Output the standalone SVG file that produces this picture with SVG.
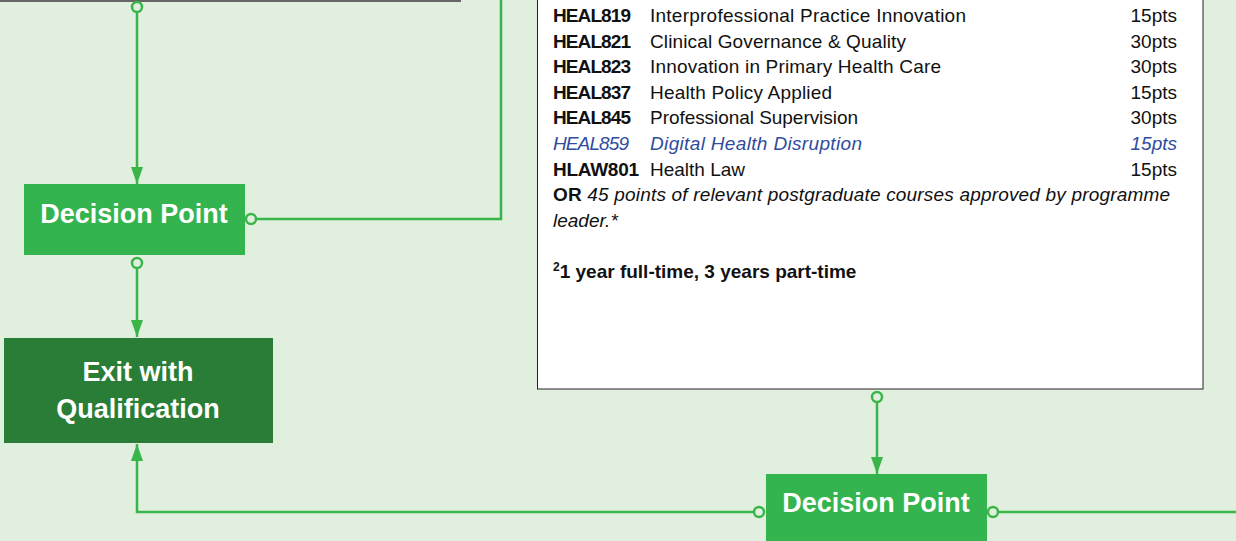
<svg xmlns="http://www.w3.org/2000/svg" width="1236" height="541" viewBox="0 0 1236 541">
<style>
.bg{fill:#e1f0de}
.conn{fill:none;stroke:#3ab54a;stroke-width:2.5}
.dot{fill:#e1f0de;stroke:#3ab54a;stroke-width:2.5}
.dp{fill:#34b44e}
.exit{fill:#2a7d36}
.nt{font-family:"Liberation Sans",Arial,sans-serif;font-weight:bold;font-size:27px;fill:#fff;text-anchor:middle}
.t{font-family:"Liberation Sans",Arial,sans-serif;font-size:19px;fill:#111}
.b{font-weight:bold}
.it{font-style:italic}
.blue{fill:#2f4c9e}
.r{text-anchor:end}
</style>
<defs>
<marker id="arr" viewBox="0 0 17 12" refX="17" refY="6" markerWidth="17" markerHeight="12" orient="auto" markerUnits="userSpaceOnUse">
<path d="M0,0 L17,6 L0,12 Z" fill="#3ab54a"/>
</marker>
</defs>
<rect class="bg" x="0" y="0" width="1236" height="541"/>

<g id="top-left-box">
<rect x="-10" y="-60" width="470" height="61" fill="#ffffff" stroke="#666" stroke-width="2"/>
</g>

<g id="courses-box">
<rect x="537.5" y="-10" width="665.5" height="399" fill="#fff" stroke="#222" stroke-width="1"/>
<g class="t">
<text class="b" x="553" y="22" textLength="78">HEAL819</text><text x="650" y="22" textLength="316">Interprofessional Practice Innovation</text><text class="r" x="1177" y="22">15pts</text>
<text class="b" x="553" y="48" textLength="78">HEAL821</text><text x="650" y="48" textLength="256">Clinical Governance &amp; Quality</text><text class="r" x="1177" y="48">30pts</text>
<text class="b" x="553" y="73" textLength="78">HEAL823</text><text x="650" y="73" textLength="291">Innovation in Primary Health Care</text><text class="r" x="1177" y="73">30pts</text>
<text class="b" x="553" y="99" textLength="78">HEAL837</text><text x="650" y="99" textLength="182">Health Policy Applied</text><text class="r" x="1177" y="99">15pts</text>
<text class="b" x="553" y="124" textLength="78">HEAL845</text><text x="650" y="124" textLength="208">Professional Supervision</text><text class="r" x="1177" y="124">30pts</text>
<text class="it blue" x="553" y="150" textLength="76">HEAL859</text><text class="it blue" x="650" y="150" textLength="212">Digital Health Disruption</text><text class="it blue r" x="1177" y="150">15pts</text>
<text class="b" x="553" y="176" textLength="86">HLAW801</text><text x="650" y="176">Health Law</text><text class="r" x="1177" y="176">15pts</text>
<text y="201" x="553" textLength="617"><tspan class="b">OR</tspan><tspan class="it"> 45 points of relevant postgraduate courses approved by programme</tspan></text>
<text class="it" x="553" y="227">leader.*</text>
<text class="b" x="553" y="278"><tspan font-size="12" dy="-7">2</tspan><tspan dy="7">1 year full-time, 3 years part-time</tspan></text>
</g>
</g>

<g id="connectors">
<path class="conn" d="M137,12 V184" marker-end="url(#arr)"/>
<circle class="dot" cx="137" cy="7" r="5"/>
<path class="conn" d="M256,219 H501 V0"/>
<circle class="dot" cx="251" cy="219" r="5"/>
<path class="conn" d="M137,268 V337" marker-end="url(#arr)"/>
<circle class="dot" cx="137" cy="263" r="5"/>
<path class="conn" d="M754,512 H137 V444" marker-end="url(#arr)"/>
<circle class="dot" cx="759" cy="512" r="5"/>
<path class="conn" d="M877,402 V474" marker-end="url(#arr)"/>
<circle class="dot" cx="877" cy="397" r="5"/>
<path class="conn" d="M998,512 H1236"/>
<circle class="dot" cx="993" cy="512" r="5"/>
</g>

<g id="decision-point-1">
<rect class="dp" x="24" y="184" width="221" height="71"/>
<text class="nt" x="134" y="223">Decision Point</text>
</g>

<g id="exit-with-qualification">
<rect class="exit" x="4" y="338" width="269" height="105"/>
<text class="nt" x="138" y="381">Exit with</text>
<text class="nt" x="138" y="418">Qualification</text>
</g>

<g id="decision-point-2">
<rect class="dp" x="766" y="474" width="221" height="80"/>
<text class="nt" x="876" y="512">Decision Point</text>
</g>
</svg>
